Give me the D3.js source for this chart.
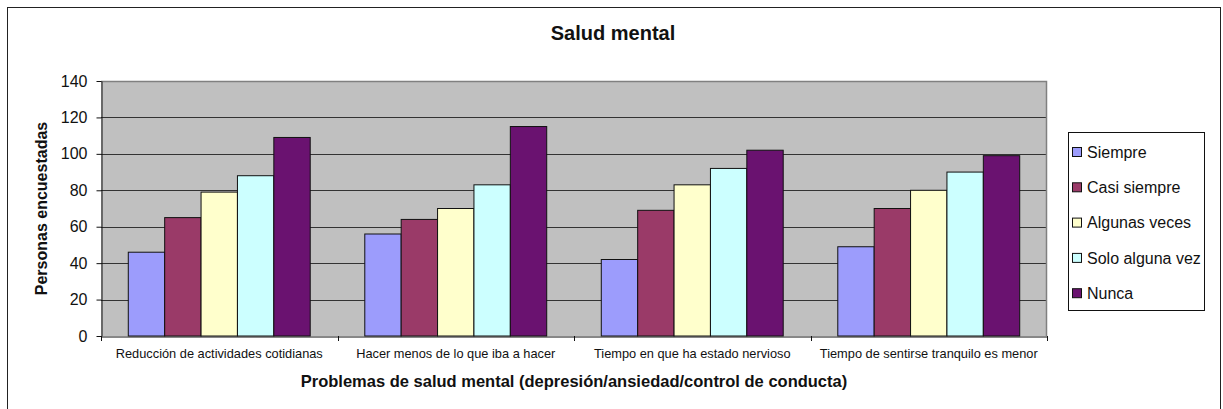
<!DOCTYPE html>
<html>
  <head>
    <meta charset="utf-8" />
    <title>Salud mental</title>
    <script src="https://cdn.jsdelivr.net/npm/d3@7"></script>
    <style type="text/css">
      body { margin: 0; background: #fff; }
      svg { font-family: 'Liberation Sans', Arial, sans-serif; }
    </style>
  </head>

  <body>
    <svg id="chart" width="1223" height="409"></svg>
    <script type="text/javascript">
      // datos
      var categories = [
        'Reducción de actividades cotidianas',
        'Hacer menos de lo que iba a hacer',
        'Tiempo en que ha estado nervioso',
        'Tiempo de sentirse tranquilo es menor'
      ];
      var seriesNames = ['Siempre', 'Casi siempre', 'Algunas veces', 'Solo alguna vez', 'Nunca'];
      var siempre = [46, 56, 42, 49];
      var casiSiempre = [65, 64, 69, 70];
      var algunasVeces = [79, 70, 83, 80];
      var soloAlgunaVez = [88, 83, 92, 90];
      var nunca = [109, 115, 102, 99];
      var yTicks = [0, 20, 40, 60, 80, 100, 120, 140];

      var colors = ['#9c9cfc', '#9a3a68', '#ffffcc', '#ccffff', '#6a1270'];
      var seriesValues = [siempre, casiSiempre, algunasVeces, soloAlgunaVez, nunca];

      var svg = d3.select('#chart');
      var pLeft = 101, pRight = 1047, pTop = 81, pBottom = 336;

      // marco exterior
      svg.append('rect')
        .attr('x', 7.5).attr('y', 7.5).attr('width', 1213).attr('height', 430)
        .attr('fill', '#fff').attr('stroke', '#222');

      var x0 = d3.scaleBand().domain(categories).range([pLeft, pRight]);
      var x1 = d3.scaleBand().domain(seriesNames).range([0, x0.bandwidth()])
        .paddingInner(0).paddingOuter(0.75);
      var y = d3.scaleLinear().domain([0, 140]).range([pBottom, pTop]);

      // area de trazado
      svg.append('rect')
        .attr('x', pLeft).attr('y', pTop)
        .attr('width', pRight - pLeft).attr('height', pBottom - pTop)
        .attr('fill', '#c0c0c0');

      svg.append('g').selectAll('line')
        .data(yTicks.slice(1, -1))
        .enter().append('line')
        .attr('x1', pLeft).attr('x2', pRight)
        .attr('y1', (d) => Math.round(y(d)) + 0.5).attr('y2', (d) => Math.round(y(d)) + 0.5)
        .attr('stroke', '#333');

      // borde gris arriba y a la derecha
      svg.append('path')
        .attr('d', 'M' + pLeft + ',' + (pTop + 0.5) + 'H' + (pRight - 0.5) + 'V' + pBottom)
        .attr('fill', 'none').attr('stroke', '#808080').attr('stroke-width', 1.5);

      // barras
      var rows = categories.map(function (c, i) {
        return seriesNames.map(function (s, j) {
          return { cat: c, name: s, value: seriesValues[j][i], color: colors[j] };
        });
      });

      svg.append('g').selectAll('g')
        .data(rows)
        .enter().append('g')
        .attr('transform', (d, i) => 'translate(' + x0(categories[i]) + ',0)')
        .selectAll('rect')
        .data((d) => d)
        .enter().append('rect')
        .attr('x', (d) => x1(d.name))
        .attr('y', (d) => y(d.value))
        .attr('width', x1.bandwidth())
        .attr('height', (d) => pBottom - y(d.value))
        .attr('fill', (d) => d.color)
        .attr('stroke', '#111')
        .attr('stroke-width', 1);

      // eje Y
      var yAxis = svg.append('g')
        .attr('transform', 'translate(' + (pLeft + 0.5) + ',0)')
        .call(d3.axisLeft(y).tickValues(yTicks).tickSize(5).tickSizeOuter(0).tickPadding(9));
      yAxis.selectAll('text').attr('font-size', 16).attr('fill', '#111').attr('font-family', null);
      yAxis.selectAll('line, path').attr('stroke', '#111');

      // eje X
      var xAxis = svg.append('g')
        .attr('transform', 'translate(0,' + (pBottom + 0.5) + ')')
        .call(d3.axisBottom(x0).tickSize(0).tickPadding(12));
      xAxis.selectAll('text').attr('font-size', 12.8).attr('fill', '#111').attr('font-family', null);
      xAxis.select('.domain').attr('stroke', '#111');

      var bounds = categories.map((c) => x0(c)).concat([pRight]);
      svg.append('g').selectAll('line')
        .data(bounds)
        .enter().append('line')
        .attr('x1', (d) => Math.round(d) + 0.5).attr('x2', (d) => Math.round(d) + 0.5)
        .attr('y1', pBottom).attr('y2', pBottom + 5)
        .attr('stroke', '#111');

      // titulos
      svg.append('text')
        .attr('x', 613).attr('y', 40)
        .attr('text-anchor', 'middle').attr('font-size', 20).attr('font-weight', 'bold')
        .attr('fill', '#111').text('Salud mental');

      svg.append('text')
        .attr('transform', 'translate(47,' + (pTop + pBottom) / 2 + ') rotate(-90)')
        .attr('text-anchor', 'middle').attr('font-size', 16).attr('font-weight', 'bold')
        .attr('fill', '#111').text('Personas encuestadas');

      svg.append('text')
        .attr('x', (pLeft + pRight) / 2).attr('y', 387)
        .attr('text-anchor', 'middle').attr('font-size', 16.5).attr('font-weight', 'bold')
        .attr('fill', '#111').text('Problemas de salud mental (depresión/ansiedad/control de conducta)');

      // leyenda
      var legend = svg.append('g');
      legend.append('rect')
        .attr('x', 1068.5).attr('y', 132.5).attr('width', 136).attr('height', 178)
        .attr('fill', '#fff').attr('stroke', '#111');

      var items = legend.selectAll('g.item')
        .data(seriesNames)
        .enter().append('g')
        .attr('class', 'item')
        .attr('transform', (d, i) => 'translate(1072,' + (152 + i * 35.3) + ')');
      items.append('rect')
        .attr('x', 0.5).attr('y', -4.5).attr('width', 9).attr('height', 9)
        .attr('fill', (d, i) => colors[i]).attr('stroke', '#111');
      items.append('text')
        .attr('x', 15).attr('dy', '0.35em')
        .attr('font-size', 16).attr('fill', '#111')
        .text((d) => d);
    </script>
  </body>
</html>
